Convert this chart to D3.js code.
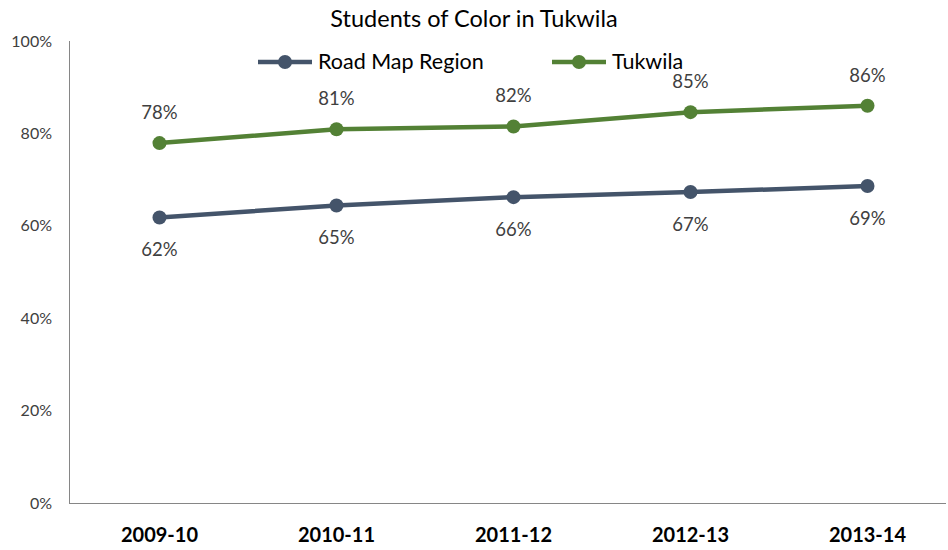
<!DOCTYPE html>
<html><head><meta charset="utf-8">
<script src="https://cdn.jsdelivr.net/npm/d3@7"></script>
<style>body{margin:0;background:#fff}svg{display:block}</style>
</head><body>
<svg id="c" width="948" height="550"></svg>
<script>
const categories = ["2009-10","2010-11","2011-12","2012-13","2013-14"];
const roadMap = [61.8, 64.4, 66.2, 67.3, 68.6];
const tukwila = [77.9, 80.9, 81.5, 84.6, 86.0];
const roadMapLabels = ["62%","65%","66%","67%","69%"];
const tukwilaLabels = ["78%","81%","82%","85%","86%"];
const yTicks = [0,20,40,60,80,100];
const seriesNames = ["Road Map Region","Tukwila"];
const colors = ["#44546A","#538135"];

const svg = d3.select("#c");
const font = "Lato, 'Open Sans', sans-serif";
const x = d3.scaleBand().domain(categories).range([71, 956]);
const y = d3.scaleLinear().domain([0,100]).range([503, 41]);

svg.append("text").attr("x", 474).attr("y", 27).attr("text-anchor","middle")
  .attr("font-family", font).attr("font-size", 23.5).attr("fill","#000")
  .text("Students of Color in Tukwila");

// axes
svg.append("line").attr("x1",69.5).attr("x2",69.5).attr("y1",y(100)).attr("y2",y(0)+0.5)
  .attr("stroke","#868686").attr("stroke-width",1);
svg.append("line").attr("x1",69).attr("x2",946).attr("y1",y(0)+0.5).attr("y2",y(0)+0.5)
  .attr("stroke","#868686").attr("stroke-width",1);

svg.selectAll(".yt").data(yTicks).enter().append("text")
  .attr("x", 52).attr("y", d => y(d)+5.5).attr("text-anchor","end")
  .attr("font-family", font).attr("font-size", 16).attr("fill","#404040")
  .text(d => d + "%");

svg.selectAll(".xt").data(categories).enter().append("text")
  .attr("x", d => x(d)+x.bandwidth()/2).attr("y", 542).attr("text-anchor","middle")
  .attr("font-family", font).attr("font-size", 20).attr("font-weight","bold").attr("fill","#000")
  .text(d => d);

const line = d3.line().x((d,i)=>x(categories[i])+x.bandwidth()/2).y(d=>y(d));
const series = [roadMap, tukwila];
const labels = [roadMapLabels, tukwilaLabels];
series.forEach((s, k) => {
  svg.append("path").attr("d", line(s)).attr("fill","none")
    .attr("stroke", colors[k]).attr("stroke-width", 4.5).attr("stroke-linejoin","round");
  svg.selectAll(".m"+k).data(s).enter().append("circle")
    .attr("cx",(d,i)=>x(categories[i])+x.bandwidth()/2).attr("cy",d=>y(d)).attr("r",7)
    .attr("fill", colors[k]);
  svg.selectAll(".l"+k).data(s).enter().append("text")
    .attr("x",(d,i)=>x(categories[i])+x.bandwidth()/2)
    .attr("y",d=> k===1 ? y(d)-24 : y(d)+39)
    .attr("text-anchor","middle").attr("font-family", font).attr("font-size", 18.5).attr("fill","#404040")
    .text((d,i)=>labels[k][i]);
});

// legend
const legX = [258, 552];
seriesNames.forEach((n,k) => {
  const g = svg.append("g");
  g.append("line").attr("x1",legX[k]).attr("x2",legX[k]+54).attr("y1",62).attr("y2",62)
    .attr("stroke",colors[k]).attr("stroke-width",4.5);
  g.append("circle").attr("cx",legX[k]+27).attr("cy",62).attr("r",7).attr("fill",colors[k]);
  g.append("text").attr("x",legX[k]+60).attr("y",69).attr("font-family",font)
    .attr("font-size",21.5).attr("fill","#000").text(n);
});
</script>
</body></html>
